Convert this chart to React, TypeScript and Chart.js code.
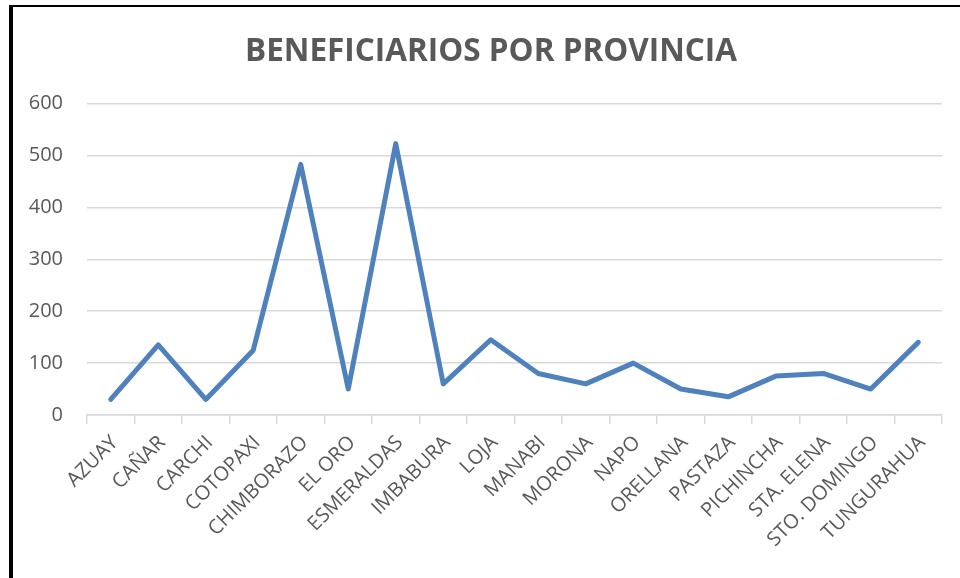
import React, { useEffect, useRef } from "react";
import { Chart, registerables } from "chart.js";

Chart.register(...registerables);

const provinces = [
  "AZUAY",
  "CAÑAR",
  "CARCHI",
  "COTOPAXI",
  "CHIMBORAZO",
  "EL ORO",
  "ESMERALDAS",
  "IMBABURA",
  "LOJA",
  "MANABI",
  "MORONA",
  "NAPO",
  "ORELLANA",
  "PASTAZA",
  "PICHINCHA",
  "STA. ELENA",
  "STO. DOMINGO",
  "TUNGURAHUA",
];
const beneficiarios = [30, 135, 30, 125, 483, 50, 523, 60, 145, 80, 60, 100, 50, 35, 75, 80, 50, 140];
const yTicks = [0, 100, 200, 300, 400, 500, 600];
const chartTitle = "BENEFICIARIOS POR PROVINCIA";

const FONT = "'Open Sans', 'DejaVu Sans', sans-serif";
const TEXT = "#595959";
const GRID = "#d9d9d9";

export default function App() {
  const ref = useRef<HTMLCanvasElement | null>(null);

  useEffect(() => {
    if (!ref.current) return;
    Chart.defaults.font.family = FONT;
    const chart = new Chart(ref.current, {
      type: "line",
      data: {
        labels: provinces,
        datasets: [
          {
            label: "Beneficiarios",
            data: beneficiarios,
            borderColor: "#4f81bd",
            backgroundColor: "#4f81bd",
            borderWidth: 5,
            pointRadius: 0,
            pointHoverRadius: 0,
            tension: 0,
            borderCapStyle: "round",
            borderJoinStyle: "round",
            fill: false,
          },
        ],
      },
      options: {
        responsive: false,
        animation: false,
        devicePixelRatio: 1,
        layout: { padding: { left: 22, right: 0, top: 0, bottom: 0 } },
        plugins: {
          legend: { display: false },
          tooltip: { enabled: false },
          title: {
            display: true,
            text: chartTitle,
            color: TEXT,
            font: { family: FONT, size: 31.5, weight: "bold", lineHeight: 1.2 },
            padding: { top: 33, bottom: 32.9 },
          },
        },
        scales: {
          x: {
            type: "category",
            offset: true,
            grid: {
              offset: true,
              drawOnChartArea: false,
              drawTicks: true,
              tickLength: 9,
              color: GRID,
              lineWidth: 1.5,
            },
            border: { display: true, color: GRID, width: 1.5 },
            ticks: {
              autoSkip: false,
              minRotation: 45,
              maxRotation: 45,
              color: TEXT,
              font: { family: FONT, size: 20 },
              padding: 7,
              labelOffset: 4,
            },
            afterFit: (s: any) => {
              s.height = 163;
            },
          },
          y: {
            min: 0,
            max: 600,
            afterBuildTicks: (s: any) => {
              s.ticks = yTicks.map((v) => ({ value: v }));
            },
            ticks: {
              color: TEXT,
              font: { family: FONT, size: 20 },
              padding: 24,
            },
            grid: { color: GRID, lineWidth: 1.5, drawTicks: false },
            border: { display: false },
            afterFit: (s: any) => {
              s.width = 65;
            },
          },
          spacer: {
            type: "linear",
            position: "right",
            display: true,
            ticks: { display: false },
            grid: { display: false },
            border: { display: false },
            afterFit: (s: any) => {
              s.width = 18;
            },
          },
        },
      },
    } as any);
    return () => chart.destroy();
  }, []);

  return (
    <div
      style={{
        position: "fixed",
        left: 0,
        top: 0,
        width: 960,
        height: 578,
        background: "#ffffff",
        overflow: "hidden",
      }}
    >
      <canvas
        ref={ref}
        width={960}
        height={578}
        style={{ position: "absolute", left: 0, top: 0, width: 960, height: 578 }}
      />
      <div style={{ position: "absolute", left: 9, top: 5, width: 951, height: 2, background: "#000" }} />
      <div style={{ position: "absolute", left: 9, top: 5, width: 4, height: 573, background: "#000" }} />
    </div>
  );
}
